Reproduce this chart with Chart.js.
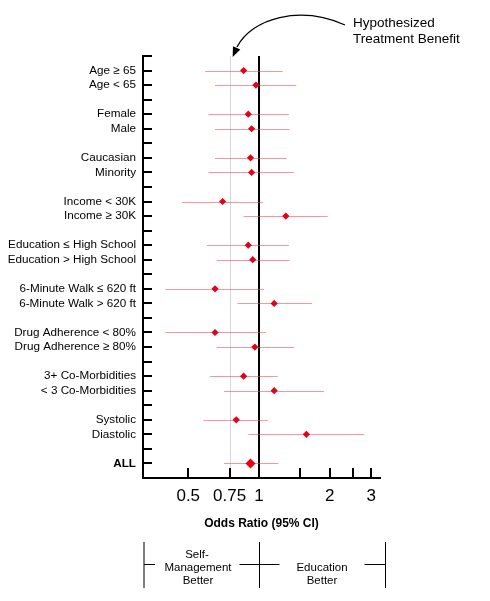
<!DOCTYPE html>
<html>
<head>
    <title>Odds Ratio forest plot</title>
    <script src="https://cdn.jsdelivr.net/npm/chart.js"></script>
    <style>
        html, body {margin: 0; padding: 0; background: #fff;}
        #chartContainer {width: 490px; height: 601px;}
    </style>
</head>
<body>
    <div id="chartContainer">
        <canvas id="chart" width="490" height="601"></canvas>
    </div>

<script>
    // subgroup rows, blank strings are the spacer rows
    var labels = ['Age \u2265 65', 'Age < 65', '',
                  'Female', 'Male', '',
                  'Caucasian', 'Minority', '',
                  'Income < 30K', 'Income \u2265 30K', '',
                  'Education \u2264 High School', 'Education > High School', '',
                  '6-Minute Walk \u2264 620 ft', '6-Minute Walk > 620 ft', '',
                  'Drug Adherence < 80%', 'Drug Adherence \u2265 80%', '',
                  '3+ Co-Morbidities', '< 3 Co-Morbidities', '',
                  'Systolic', 'Diastolic', '',
                  'ALL'];
    var oddsRatio = [0.86, 0.97, null, 0.90, 0.93, null, 0.92, 0.93, null, 0.70, 1.30, null,
                     0.90, 0.94, null, 0.65, 1.16, null, 0.65, 0.96, null, 0.86, 1.16, null,
                     0.80, 1.59, null, 0.92];
    var ciLow = [0.59, 0.65, null, 0.61, 0.65, null, 0.65, 0.61, null, 0.47, 0.86, null,
                 0.60, 0.66, null, 0.40, 0.81, null, 0.40, 0.66, null, 0.62, 0.71, null,
                 0.58, 0.90, null, 0.71];
    var ciHigh = [1.26, 1.44, null, 1.34, 1.35, null, 1.31, 1.41, null, 1.04, 1.96, null,
                  1.34, 1.35, null, 1.05, 1.68, null, 1.07, 1.41, null, 1.20, 1.89, null,
                  1.09, 2.80, null, 1.21];
    var xTicks = [0.5, 0.75, 1, 1.5, 2, 2.5, 3];
    var xTickLabels = ['0.5', '0.75', '1', '', '2', '', '3'];

    var points = [];
    var radii = [];
    labels.forEach(function(l, i) {
        if (oddsRatio[i] == null) return;
        points.push({x: oddsRatio[i], y: i});
        radii.push(l == 'ALL' ? 5 : 3.6);
    });

    var decorations = {
        id: 'decorations',
        beforeDatasetsDraw: function(chart) {
            var ctx = chart.ctx, xs = chart.scales.x, ys = chart.scales.y, a = chart.chartArea;
            ctx.save();
            // hypothesized benefit line and line of no effect
            var p = Math.round(xs.getPixelForValue(0.75)) + 0.5;
            ctx.strokeStyle = '#d6d6d6'; ctx.lineWidth = 1;
            ctx.beginPath(); ctx.moveTo(p, a.top); ctx.lineTo(p, a.bottom); ctx.stroke();
            p = Math.round(xs.getPixelForValue(1));
            ctx.strokeStyle = '#000'; ctx.lineWidth = 2;
            ctx.beginPath(); ctx.moveTo(p, a.top); ctx.lineTo(p, a.bottom); ctx.stroke();

            // confidence intervals
            ctx.strokeStyle = 'rgba(232, 70, 80, 0.55)'; ctx.lineWidth = 1;
            labels.forEach(function(l, i) {
                if (ciLow[i] == null) return;
                var py = Math.round(ys.getPixelForValue(i)) + 0.5;
                ctx.beginPath();
                ctx.moveTo(xs.getPixelForValue(ciLow[i]), py);
                ctx.lineTo(xs.getPixelForValue(ciHigh[i]), py);
                ctx.stroke();
            });

            // tick marks drawn inward
            ctx.strokeStyle = '#000'; ctx.lineWidth = 2;
            xs.ticks.forEach(function(t) {
                var px = Math.round(xs.getPixelForValue(t.value));
                ctx.beginPath(); ctx.moveTo(px, a.bottom); ctx.lineTo(px, a.bottom - 10); ctx.stroke();
            });
            ys.ticks.forEach(function(t) {
                var py = Math.round(ys.getPixelForValue(t.value));
                ctx.beginPath(); ctx.moveTo(a.left, py); ctx.lineTo(a.left + 9, py); ctx.stroke();
            });
            ctx.restore();
        },
        afterDraw: function(chart) {
            var ctx = chart.ctx, xs = chart.scales.x, a = chart.chartArea;
            ctx.save();
            ctx.fillStyle = '#000'; ctx.strokeStyle = '#000';

            // callout at the top
            ctx.font = '13.5px Arial';
            ctx.textAlign = 'left'; ctx.textBaseline = 'alphabetic';
            ctx.fillText('Hypothesized', 353, 27);
            ctx.fillText('Treatment Benefit', 353, 43);
            ctx.lineWidth = 1.3;
            ctx.beginPath();
            ctx.moveTo(345, 25);
            ctx.bezierCurveTo(300, 5, 252, 18, 237, 47);
            ctx.stroke();
            var tipX = xs.getPixelForValue(0.75) + 3, tipY = 57;
            var ang = Math.atan2(tipY - 47, tipX - 237);
            ctx.beginPath();
            ctx.moveTo(tipX, tipY);
            ctx.lineTo(tipX - 10 * Math.cos(ang) + 4 * Math.sin(ang), tipY - 10 * Math.sin(ang) - 4 * Math.cos(ang));
            ctx.lineTo(tipX - 10 * Math.cos(ang) - 4 * Math.sin(ang), tipY - 10 * Math.sin(ang) + 4 * Math.cos(ang));
            ctx.closePath();
            ctx.fill();

            // which arm is better
            var left = a.left + 1, mid = Math.round(xs.getPixelForValue(1)) + 0.5, right = a.right + 5.5;
            ctx.lineWidth = 1;
            ctx.beginPath();
            [left, mid, right].forEach(function(x) { ctx.moveTo(x, 542); ctx.lineTo(x, 588); });
            ctx.moveTo(left, 564.5); ctx.lineTo(left + 11, 564.5);
            ctx.moveTo(mid - 20, 564.5); ctx.lineTo(mid + 20, 564.5);
            ctx.moveTo(right - 21, 564.5); ctx.lineTo(right, 564.5);
            ctx.stroke();
            ctx.font = '11.5px Arial';
            ctx.textAlign = 'center'; ctx.textBaseline = 'middle';
            ctx.fillText('Self-', 197, 555);
            ctx.fillText('Management', 198, 568);
            ctx.fillText('Better', 198, 581);
            ctx.fillText('Education', 322, 568);
            ctx.fillText('Better', 322, 581);
            ctx.restore();
        }
    };

    var ctx = document.getElementById('chart').getContext('2d');
    var chart = new Chart(ctx, {
        type: 'scatter',
        data: {
            datasets: [{
                label: 'Odds Ratio',
                data: points,
                pointStyle: 'rectRot',
                pointRadius: radii,
                backgroundColor: '#e2001a',
                borderColor: '#e2001a',
                borderWidth: 0
            }]
        },
        options: {
            responsive: false,
            animation: false,
            devicePixelRatio: 1,
            layout: {padding: {top: 56, right: 110, left: 0, bottom: 0}},
            plugins: {
                legend: {display: false},
                tooltip: {enabled: false}
            },
            scales: {
                x: {
                    type: 'logarithmic',
                    bounds: 'data',
                    min: 0.321,
                    max: 3.27,
                    afterBuildTicks: function(s) { s.ticks = xTicks.map(function(v) { return {value: v}; }); },
                    afterFit: function(s) { s.height = 123; },
                    grid: {drawOnChartArea: false, drawTicks: false},
                    border: {color: '#000', width: 2},
                    ticks: {
                        padding: 8,
                        color: '#000',
                        autoSkip: false,
                        maxRotation: 0,
                        font: {family: 'Arial', size: 17},
                        callback: function(v, i) { return xTickLabels[i]; }
                    },
                    title: {
                        display: true,
                        text: 'Odds Ratio (95% CI)',
                        color: '#000',
                        font: {family: 'Arial', size: 12, weight: 'bold'},
                        padding: {top: 0, bottom: 70}
                    }
                },
                y: {
                    type: 'linear',
                    min: -1,
                    max: 28,
                    reverse: true,
                    afterBuildTicks: function(s) {
                        s.ticks = [];
                        for (var i = -1; i <= 28; i++) s.ticks.push({value: i});
                    },
                    afterFit: function(s) { s.width = 143; },
                    grid: {drawOnChartArea: false, drawTicks: false},
                    border: {color: '#000', width: 2},
                    ticks: {
                        padding: 7,
                        color: '#000',
                        autoSkip: false,
                        font: function(c) {
                            var bold = c.tick && labels[c.tick.value] == 'ALL';
                            return {family: 'Arial', size: 11.7, weight: bold ? 'bold' : 'normal'};
                        },
                        callback: function(v) { return labels[v] || ''; }
                    }
                }
            }
        },
        plugins: [decorations]
    });
</script>
</body>
</html>
